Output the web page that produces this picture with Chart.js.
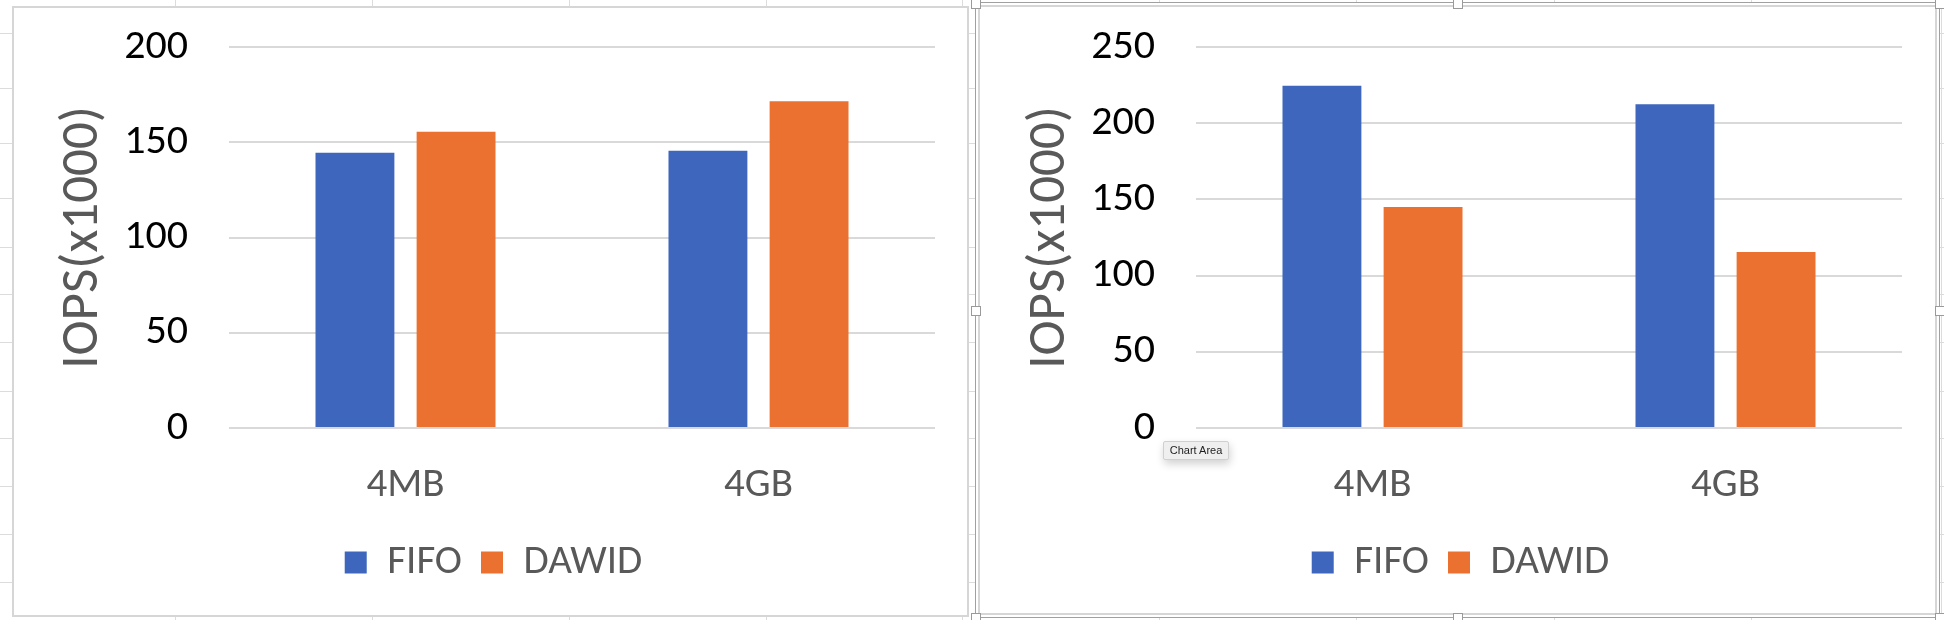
<!DOCTYPE html>
<html>
<head>
<meta charset="utf-8">
<script src="https://cdn.jsdelivr.net/npm/chart.js@4.4.1/dist/chart.umd.min.js"></script>
<style>
  html, body { margin: 0; padding: 0; background: #fff; }
  body { width: 1944px; height: 620px; position: relative; overflow: hidden; font-family: Carlito, 'Liberation Sans', Arial, sans-serif; }
  .hline { position: absolute; left: 0; width: 1944px; height: 1px; background: #dcdcdc; }
  .vline { position: absolute; top: 0; height: 620px; width: 1px; background: #dcdcdc; }
  .box { position: absolute; background: #fff; box-sizing: border-box; }
  #leftBox { left: 12px; top: 6px; width: 957px; height: 611px; border: 2px solid #d6d6d6; }
  #rightBox { left: 975px; top: 2px; width: 965px; height: 616px; border: 1px solid #a0a0a0; }
  #rightInner { position: absolute; left: 2px; top: 2px; right: 2px; bottom: 2px; border: 2px solid #d6d6d6; }
  canvas { position: absolute; }
  .handle { position: absolute; width: 8px; height: 8px; background: #fff; border: 1px solid #9a9a9a; }
  #tip { position: absolute; left: 1163px; top: 441px; width: 66px; height: 19px; background: #efefef; border: 1px solid #d0d0d0; border-radius: 2px;
         box-shadow: 1px 4px 9px rgba(0,0,0,0.18); font: 11px 'Liberation Sans', Arial, sans-serif; color: #1e1e1e; line-height: 17px; text-align: center; box-sizing: border-box; }
</style>
</head>
<body>
<div id="sheet"></div>
<div class="box" id="leftBox"></div>
<div class="box" id="rightBox"><div id="rightInner"></div></div>
<canvas id="leftChart" width="952" height="605" style="left:14px; top:8px;"></canvas>
<canvas id="rightChart" width="952" height="605" style="left:981px; top:8px;"></canvas>
<div id="tip">Chart Area</div>
<script>
const categories = ['4MB', '4GB'];
const seriesNames = ['FIFO', 'DAWID'];
const leftFifo = [144.5, 145.5];
const leftDawid = [155.5, 171.5];
const rightFifo = [224.5, 212.5];
const rightDawid = [145, 115.5];
const leftMax = 200;
const rightMax = 250;
const tickStep = 50;
const yTitle = 'IOPS(x1000)';

const blue = '#3D66BC';
const orange = '#EB7130';
const fontFamily = "Carlito, 'Liberation Sans', Arial, sans-serif";

// spreadsheet grid behind the charts
const sheet = document.getElementById('sheet');
[33, 88, 143, 198, 247, 294, 342, 391, 438, 486, 534, 582].forEach(y => {
  const d = document.createElement('div');
  d.className = 'hline';
  d.style.top = y + 'px';
  sheet.appendChild(d);
});
[175, 372, 569, 766, 962, 1159, 1356, 1554, 1751, 1941].forEach(x => {
  const d = document.createElement('div');
  d.className = 'vline';
  d.style.left = x + 'px';
  sheet.appendChild(d);
});

// selection handles on the right chart
[[971, -1], [1453, -1], [1935, -1], [971, 306], [1935, 306], [971, 613], [1453, 613], [1935, 613]].forEach(p => {
  const h = document.createElement('div');
  h.className = 'handle';
  h.style.left = p[0] + 'px';
  h.style.top = p[1] + 'px';
  document.body.appendChild(h);
});

function makeChart(id, fifo, dawid, yMax) {
  const ctx = document.getElementById(id).getContext('2d');
  return new Chart(ctx, {
    type: 'bar',
    data: {
      labels: categories,
      datasets: [
        { label: seriesNames[0], data: fifo, backgroundColor: blue, categoryPercentage: 0.573, barPercentage: 0.78 },
        { label: seriesNames[1], data: dawid, backgroundColor: orange, categoryPercentage: 0.573, barPercentage: 0.78 }
      ]
    },
    options: {
      responsive: false,
      animation: false,
      layout: { padding: { left: 38, right: 31, top: 39, bottom: 20 } },
      plugins: {
        tooltip: { enabled: false },
        legend: {
          position: 'bottom',
          labels: {
            boxWidth: 22,
            boxHeight: 22,
            padding: 19,
            color: '#595959',
            font: { size: 41, family: fontFamily }
          }
        }
      },
      scales: {
        x: {
          grid: { display: false },
          border: { display: false },
          ticks: { color: '#595959', padding: 25, font: { size: 41, family: fontFamily } },
          afterFit(s) { s.height = 95; }
        },
        y: {
          min: 0,
          max: yMax,
          ticks: { stepSize: tickStep, color: '#000', padding: 41, font: { size: 42, family: fontFamily } },
          grid: { color: '#d9d9d9', lineWidth: 2, drawTicks: false },
          border: { display: false },
          title: { display: true, text: yTitle, color: '#595959', padding: 0, font: { size: 53, family: fontFamily } },
          afterFit(s) {
            s.width = 177;
            s.paddingTop = 0;
            s.paddingBottom = 0;
          }
        }
      }
    }
  });
}

makeChart('leftChart', leftFifo, leftDawid, leftMax);
makeChart('rightChart', rightFifo, rightDawid, rightMax);
</script>
</body>
</html>
